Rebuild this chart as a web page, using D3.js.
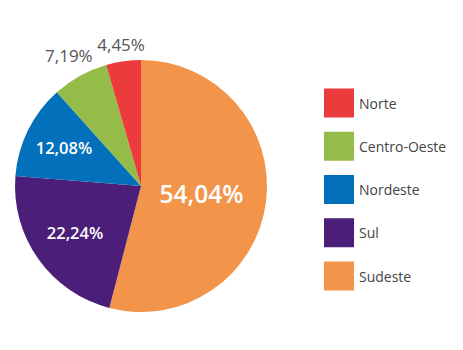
<!DOCTYPE html>
<html>
<head>
<meta charset="utf-8">
<script src="https://cdn.jsdelivr.net/npm/d3@7"></script>
<style>
  html, body { margin: 0; padding: 0; background: #fff; }
  svg { display: block; font-family: "Open Sans", "DejaVu Sans", sans-serif; }
</style>
</head>
<body>
<svg id="chart" width="463" height="350"></svg>
<script>
// Regional shares (%), drawn clockwise from 12 o'clock
const regions = ["Sudeste", "Sul", "Nordeste", "Centro-Oeste", "Norte"];
const shares = [54.04, 22.24, 12.08, 7.19, 4.45];
const labels = ["54,04%", "22,24%", "12,08%", "7,19%", "4,45%"];

// Legend order (top to bottom)
const legendOrder = ["Norte", "Centro-Oeste", "Nordeste", "Sul", "Sudeste"];

const colors = {
  "Sudeste": "#f2954b",
  "Sul": "#4a1e79",
  "Nordeste": "#0270ba",
  "Centro-Oeste": "#95bb48",
  "Norte": "#eb3b3d"
};

// Label placement: distance from centre (in px) and style per slice
const labelStyle = {
  "Sudeste":      { r: 61,  size: 24.5, weight: 600, fill: "#fff" },
  "Sul":          { r: 81,  size: 16.5, weight: 600, fill: "#fff" },
  "Nordeste":     { r: 86,  size: 16.5, weight: 600, fill: "#fff" },
  "Centro-Oeste": { r: 149, size: 17, weight: 400, fill: "#555" },
  "Norte":        { r: 143, size: 17, weight: 400, fill: "#555" }
};

const svg = d3.select("#chart");
const cx = 141, cy = 186, R = 126;

const data = regions.map((name, i) => ({ name, value: shares[i], label: labels[i] }));

const pie = d3.pie().value(d => d.value).sort(null);
const arc = d3.arc().innerRadius(0).outerRadius(R);
const arcs = pie(data);

const g = svg.append("g").attr("transform", `translate(${cx},${cy})`);

g.selectAll("path.slice")
  .data(arcs)
  .join("path")
  .attr("class", "slice")
  .attr("d", arc)
  .attr("fill", d => colors[d.data.name]);

g.selectAll("text.pct")
  .data(arcs)
  .join("text")
  .attr("class", "pct")
  .each(function(d) {
    const s = labelStyle[d.data.name];
    const a = (d.startAngle + d.endAngle) / 2;
    d3.select(this)
      .attr("x", s.r * Math.sin(a))
      .attr("y", -s.r * Math.cos(a))
      .attr("font-size", s.size)
      .attr("font-weight", s.weight)
      .attr("fill", s.fill);
  })
  .attr("text-anchor", "middle")
  .attr("dominant-baseline", "central")
  .text(d => d.data.label);

// Legend
const legendY = d3.scalePoint().domain(legendOrder).range([103, 276]);

const legend = svg.append("g");
const item = legend.selectAll("g.item")
  .data(legendOrder)
  .join("g")
  .attr("class", "item")
  .attr("transform", d => `translate(324,${legendY(d)})`);

item.append("rect")
  .attr("x", 0).attr("y", -14.5)
  .attr("width", 30).attr("height", 29)
  .attr("fill", d => colors[d]);

item.append("text")
  .attr("x", 35).attr("y", 0)
  .attr("dominant-baseline", "central")
  .attr("font-size", 14)
  .attr("fill", "#444")
  .text(d => d);
</script>
</body>
</html>
